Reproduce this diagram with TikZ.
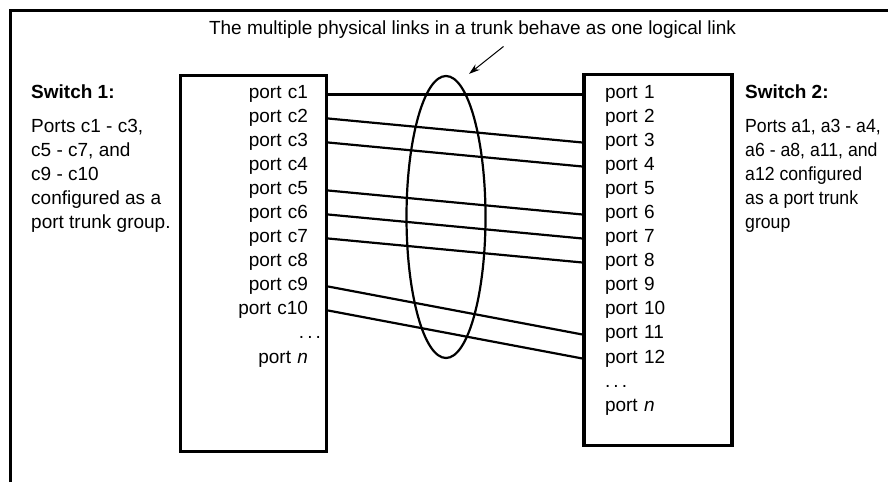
\documentclass[tikz,border=0pt]{standalone}
\usepackage{fontspec}
\setmainfont{Liberation Sans}
\newfontfamily\narrowsans{Liberation Sans}[FakeStretch=0.93]
\usetikzlibrary{shapes.geometric, arrows.meta, positioning, calc}
\newcommand{\portfont}{\fontsize{19pt}{24pt}\selectfont}
\tikzset{
	switchbox/.style={rectangle, draw=black, line width=3.2pt, fill=white},
	portl/.style={text width=70pt, align=right, inner sep=0pt, outer sep=0pt, text height=13pt, text depth=4pt, minimum height=24pt},
	portr/.style={text width=70pt, align=left, inner sep=0pt, outer sep=0pt, text height=13pt, text depth=4pt, minimum height=24pt},
	desc/.style={align=left, inner sep=0pt, anchor=north west},
	trunk_ring/.style={ellipse, draw=black, line width=2.2pt, minimum width=79pt, minimum height=282pt, inner sep=0pt},
	link/.style={draw=black, line width=2.2pt},
	pointer/.style={-{Stealth[length=11pt, width=7pt]}, line width=1pt},
	frame_line/.style={draw=black, line width=3.2pt}
}
\begin{document}
\begin{tikzpicture}[x=1pt, y=1pt, font=\portfont]
	\useasboundingbox (0,0) rectangle (888,482);
	\draw[frame_line] (10.3,0) -- (10.3,471.3) -- (888,471.3);
	\node[switchbox, minimum width=146pt, minimum height=376pt] (boxl) at (253.5,218.8) {};
	\node[switchbox, minimum width=148pt, minimum height=371pt] (boxr) at (658,222.3) {};
	% switch 1 ports
	\node[portl, anchor=east] (pc1) at (308,387.5) {port c1};
	\node[portl, below=0pt of pc1] (pc2) {port c2};
	\node[portl, below=0pt of pc2] (pc3) {port c3};
	\node[portl, below=0pt of pc3] (pc4) {port c4};
	\node[portl, below=0pt of pc4] (pc5) {port c5};
	\node[portl, below=0pt of pc5] (pc6) {port c6};
	\node[portl, below=0pt of pc6] (pc7) {port c7};
	\node[portl, below=0pt of pc7] (pc8) {port c8};
	\node[portl, below=0pt of pc8] (pc9) {port c9};
	\node[portl, below=0pt of pc9] (pc10) {port c10};
	\node[portl, below=0pt of pc10, xshift=13pt] (dotsl) {.\,.\,.};
	\node[portl, below=24pt of pc10] (pnl) {port \textit{n}};
	% switch 2 ports
	\node[portr, anchor=west] (p1) at (605,387.5) {port 1};
	\node[portr, below=0pt of p1] (p2) {port 2};
	\node[portr, below=0pt of p2] (p3) {port 3};
	\node[portr, below=0pt of p3] (p4) {port 4};
	\node[portr, below=0pt of p4] (p5) {port 5};
	\node[portr, below=0pt of p5] (p6) {port 6};
	\node[portr, below=0pt of p6] (p7) {port 7};
	\node[portr, below=0pt of p7] (p8) {port 8};
	\node[portr, below=0pt of p8] (p9) {port 9};
	\node[portr, below=0pt of p9] (p10) {port 10};
	\node[portr, below=0pt of p10] (p11) {port 11};
	\node[portr, below=0pt of p11] (p12) {port 12};
	\node[portr, below=0pt of p12] (dotsr) {.\,.\,.};
	\node[portr, below=0pt of dotsr] (pnr) {port \textit{n}};
	% trunk links
	\draw[link] (pc1 -| boxl.east) -- (p1 -| boxr.west);
	\draw[link] (pc2 -| boxl.east) -- (p3 -| boxr.west);
	\draw[link] (pc3 -| boxl.east) -- (p4 -| boxr.west);
	\draw[link] (pc5 -| boxl.east) -- (p6 -| boxr.west);
	\draw[link] (pc6 -| boxl.east) -- (p7 -| boxr.west);
	\draw[link] (pc7 -| boxl.east) -- (p8 -| boxr.west);
	\draw[link] (pc9 -| boxl.east) -- (p11 -| boxr.west);
	\draw[link] (pc10 -| boxl.east) -- (p12 -| boxr.west);
	\node[trunk_ring] (trunk) at (446,265) {};
	\node[anchor=base] (title) at (472.5,447) {The multiple physical links in a trunk behave as one logical link};
	\draw[pointer] ($(title.south)+(31,-4)$) -- ($(trunk.north)+(23,1)$);
	% switch descriptions
	\node[anchor=base west, font=\portfont\bfseries, inner sep=0pt] (sw1) at (31,383) {Switch 1:};
	\node[desc] (sw1txt) at (31,362.5) {Ports c1 - c3,\\c5 - c7, and\\c9 - c10\\configured as a\\port trunk group.};
	\node[anchor=base west, font=\portfont\bfseries, inner sep=0pt] (sw2) at (745,383) {Switch 2:};
	\node[desc, font=\portfont\narrowsans] (sw2txt) at (745,362.5) {Ports a1, a3 - a4,\\a6 - a8, a11, and\\a12 configured\\as a port trunk\\group};
\end{tikzpicture}
\end{document}
